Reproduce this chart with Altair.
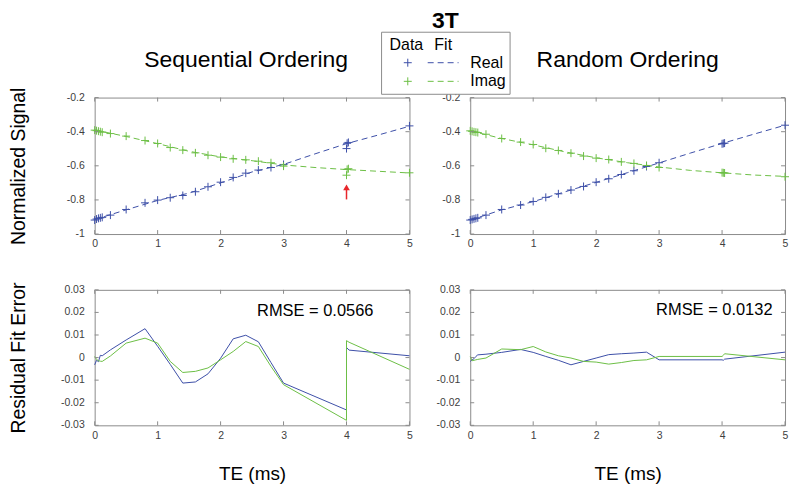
import altair as alt
import pandas as pd

# ---------------- data ----------------
TE_L = [0, 0.03, 0.06, 0.09, 0.12, 0.25, 0.5, 0.8, 1.0, 1.2, 1.4, 1.6, 1.8, 2.0, 2.2, 2.4, 2.6, 2.8, 3.0, 4.0, 4.01, 4.03, 5.0]
REAL_L = [-0.918, -0.912, -0.908, -0.905, -0.902, -0.889, -0.856, -0.817, -0.801, -0.787, -0.774, -0.752, -0.723, -0.696, -0.668, -0.643, -0.625, -0.610, -0.592, -0.499, -0.468, -0.463, -0.366]
IMAG_L = [-0.391, -0.394, -0.397, -0.400, -0.403, -0.411, -0.426, -0.452, -0.469, -0.493, -0.508, -0.524, -0.538, -0.549, -0.559, -0.565, -0.573, -0.582, -0.602, -0.655, -0.621, -0.617, -0.641]

TE_R = [0, 0.03, 0.06, 0.09, 0.12, 0.25, 0.5, 0.8, 1.0, 1.2, 1.4, 1.6, 1.8, 2.0, 2.2, 2.4, 2.6, 2.8, 3.0, 4.0, 4.02, 4.04, 5.0]
REAL_R = [-0.918, -0.914, -0.911, -0.908, -0.905, -0.889, -0.856, -0.830, -0.809, -0.785, -0.764, -0.742, -0.721, -0.696, -0.676, -0.651, -0.629, -0.604, -0.582, -0.471, -0.469, -0.467, -0.362]
IMAG_R = [-0.395, -0.398, -0.401, -0.403, -0.405, -0.415, -0.440, -0.461, -0.475, -0.497, -0.510, -0.526, -0.543, -0.555, -0.563, -0.577, -0.586, -0.598, -0.610, -0.640, -0.641, -0.642, -0.664]

FIT_TE = [0, 0.5, 1.0, 1.5, 2.0, 2.5, 3.0, 3.5, 4.0, 4.5, 5.0]
FIT_REAL_L = [-0.915, -0.858, -0.803, -0.760, -0.700, -0.636, -0.592, -0.530, -0.470, -0.420, -0.368]
FIT_IMAG_L = [-0.390, -0.428, -0.470, -0.515, -0.548, -0.570, -0.595, -0.610, -0.622, -0.632, -0.642]
FIT_REAL_R = [-0.918, -0.858, -0.810, -0.753, -0.697, -0.640, -0.583, -0.525, -0.469, -0.415, -0.362]
FIT_IMAG_R = [-0.395, -0.440, -0.477, -0.518, -0.553, -0.582, -0.607, -0.627, -0.641, -0.654, -0.662]

RES_TE_L = [0, 0.03, 0.06, 0.09, 0.12, 0.25, 0.5, 0.8, 1.0, 1.2, 1.4, 1.6, 1.8, 2.0, 2.2, 2.4, 2.6, 2.8, 3.0, 4.0, 4.0, 4.04, 5.0]
RES_REAL_L = [-0.0032, -0.0012, -0.0018, 0.0010, 0.0008, 0.0034, 0.0078, 0.0128, 0.0050, -0.0030, -0.0113, -0.0108, -0.0072, -0.0003, 0.0083, 0.0099, 0.0070, -0.0022, -0.0113, -0.0232, 0.0045, 0.0033, 0.0008]
RES_IMAG_L = [0.0005, -0.0008, -0.0014, -0.0016, -0.0017, 0.0007, 0.0064, 0.0086, 0.0064, -0.0017, -0.0066, -0.0061, -0.0046, -0.0010, 0.0027, 0.0071, 0.0049, -0.0039, -0.0120, -0.0278, 0.0075, 0.0068, -0.0052]

RES_TE_R = [0, 0.03, 0.06, 0.09, 0.12, 0.25, 0.5, 0.8, 1.0, 1.2, 1.4, 1.6, 1.8, 2.0, 2.2, 2.4, 2.6, 2.8, 3.0, 4.0, 4.02, 4.04, 5.0]
RES_REAL_R = [-0.0017, -0.0010, -0.0005, 0.0005, 0.0012, 0.0015, 0.0023, 0.0036, 0.0023, 0.0005, -0.0012, -0.0032, -0.0017, -0.0002, 0.0013, 0.0017, 0.0020, 0.0024, -0.0010, -0.0010, -0.0012, -0.0007, 0.0024]
RES_IMAG_R = [0.0005, -0.0014, -0.0012, -0.0010, -0.0008, -0.0002, 0.0038, 0.0035, 0.0049, 0.0025, 0.0008, -0.0002, -0.0017, -0.0020, -0.0029, -0.0022, -0.0013, -0.0010, 0.0005, 0.0005, 0.0010, 0.0017, -0.0010]

ARROW_TE = [4.0]
ARROW_FROM = [-0.797]
ARROW_TO = [-0.735]
ARROW_HEAD = [-0.726]

X_TICKS = [0, 1, 2, 3, 4, 5]
Y_TICKS_TOP = [-1, -0.8, -0.6, -0.4, -0.2]
Y_LABELS_TOP = ["-1", "-0.8", "-0.6", "-0.4", "-0.2"]
Y_TICKS_BOT = [-0.03, -0.02, -0.01, 0, 0.01, 0.02, 0.03]
Y_LABELS_BOT = ["-0.03", "-0.02", "-0.01", "0", "0.01", "0.02", "0.03"]
SERIES = ["Real", "Imag"]

# ---------------- style ----------------
BLUE = "#3d4fa8"
GREEN = "#6cbf45"
AX = "#8c8c8c"
LAB = "#404040"
FONT = "Liberation Sans"
PLUS = "M-1,0L1,0M0,-1L0,1"
W = 316
H_TOP = 137
H_BOT = 136

cscale = alt.Scale(domain=SERIES, range=[BLUE, GREEN])
xscale = alt.Scale(domain=[0, 5], nice=False, zero=False)
ONE = pd.DataFrame({"a": [0]})


def x_axis(title):
    kw = dict(values=X_TICKS, labelExpr="'' + datum.value", ticks=False, domain=False,
              grid=False, labelPadding=5, labelFontSize=10.5, labelColor=LAB, labelFont=FONT,
              labelOverlap=False, labelFlush=False)
    if title:
        kw.update(title=title, titleFontSize=19, titleFontWeight="normal", titleColor="black",
                  titleFont=FONT, titleY=48, titleBaseline="middle")
    else:
        kw.update(title=None)
    return alt.Axis(**kw)


def y_axis(values, title, h):
    kw = dict(values=values, labels=False, ticks=False, domain=False, grid=False)
    if title:
        kw.update(title=title, titleFontSize=19.5, titleFontWeight="normal", titleColor="black",
                  titleFont=FONT, titleX=-76.5, titleY=h / 2, titleBaseline="middle")
    else:
        kw.update(title=None)
    return alt.Axis(**kw)


def ylabel_layer(yscale, yvals, labels):
    d = pd.DataFrame({"value": yvals, "label": labels})
    return alt.Chart(d).mark_text(align="right", baseline="middle", fontSize=10.5, font=FONT,
                                  color=LAB).encode(
        y=alt.Y("value:Q", scale=yscale), x=alt.value(-10), text="label:N")


def text_layer(txt, x, y, size, align="left", baseline="middle", weight="normal"):
    return alt.Chart(ONE).mark_text(text=txt, fontSize=size, font=FONT, align=align, baseline=baseline,
                                    fontWeight=weight, color="black").encode(x=alt.value(x), y=alt.value(y))


def tick_layers(yscale, yvals, w, h):
    dx = pd.DataFrame({"TE": X_TICKS})
    dy = pd.DataFrame({"value": yvals})
    xe = alt.X("TE:Q", scale=xscale)
    ye = alt.Y("value:Q", scale=yscale)
    return [
        alt.Chart(dx).mark_rule(color=AX, strokeWidth=1).encode(x=xe, y=alt.value(h), y2=alt.value(h - 4)),
        alt.Chart(dx).mark_rule(color=AX, strokeWidth=1).encode(x=xe, y=alt.value(0), y2=alt.value(4)),
        alt.Chart(dy).mark_rule(color=AX, strokeWidth=1).encode(y=ye, x=alt.value(0), x2=alt.value(4)),
        alt.Chart(dy).mark_rule(color=AX, strokeWidth=1).encode(y=ye, x=alt.value(w - 4), x2=alt.value(w)),
    ]


def top_panel(te, real, imag, fr, fi, title, title_x, ytitle, extra):
    n = len(te)
    pts = pd.DataFrame({"TE": te + te, "value": real + imag, "series": ["Real"] * n + ["Imag"] * n})
    m = len(FIT_TE)
    fit = pd.DataFrame({"TE": FIT_TE + FIT_TE, "value": fr + fi, "series": ["Real"] * m + ["Imag"] * m})
    ys = alt.Scale(domain=[-1, -0.2], nice=False, zero=False)
    pts_l = alt.Chart(pts).mark_point(shape=PLUS, size=64, filled=False, strokeWidth=1, opacity=1).encode(
        x=alt.X("TE:Q", scale=xscale, axis=x_axis(None)),
        y=alt.Y("value:Q", scale=ys, axis=y_axis(Y_TICKS_TOP, ytitle, H_TOP)),
        color=alt.Color("series:N", scale=cscale, legend=None),
    )
    fit_l = alt.Chart(fit).mark_line(strokeDash=[6, 4], strokeWidth=1).encode(
        x=alt.X("TE:Q", scale=xscale),
        y=alt.Y("value:Q", scale=ys),
        color=alt.Color("series:N", scale=cscale, legend=None),
    )
    ttl = text_layer(title, title_x, -31, 23, align="center", baseline="alphabetic")
    layers = ([pts_l, fit_l] + tick_layers(ys, Y_TICKS_TOP, W, H_TOP)
              + [ylabel_layer(ys, Y_TICKS_TOP, Y_LABELS_TOP)] + extra(ys) + [ttl])
    return alt.layer(*layers).properties(width=W, height=H_TOP)


def bot_panel(te, rr, ri, rmse, rx, ry, ytitle):
    n = len(te)
    df = pd.DataFrame({"TE": te + te, "value": rr + ri, "series": ["Real"] * n + ["Imag"] * n,
                       "idx": list(range(n)) + list(range(n))})
    ys = alt.Scale(domain=[-0.03, 0.03], nice=False, zero=False)
    line = alt.Chart(df).mark_line(strokeWidth=1).encode(
        x=alt.X("TE:Q", scale=xscale, axis=x_axis("TE (ms)")),
        y=alt.Y("value:Q", scale=ys, axis=y_axis(Y_TICKS_BOT, ytitle, H_BOT)),
        color=alt.Color("series:N", scale=cscale, legend=None),
        order="idx:Q",
    )
    txt = text_layer(rmse, rx, ry, 16.5)
    layers = ([line] + tick_layers(ys, Y_TICKS_BOT, W, H_BOT)
              + [ylabel_layer(ys, Y_TICKS_BOT, Y_LABELS_BOT), txt])
    return alt.layer(*layers).properties(width=W, height=H_BOT)


def arrow_layers(ys):
    d = pd.DataFrame({"TE": ARROW_TE, "y0": ARROW_FROM, "y1": ARROW_TO, "yh": ARROW_HEAD})
    rule = alt.Chart(d).mark_rule(color="#e8262b", strokeWidth=1.5).encode(
        x=alt.X("TE:Q", scale=xscale),
        y=alt.Y("y0:Q", scale=ys), y2="y1:Q")
    head = alt.Chart(d).mark_point(shape="triangle-up", filled=True, color="#e8262b", size=45, opacity=1).encode(
        x=alt.X("TE:Q", scale=xscale),
        y=alt.Y("yh:Q", scale=ys))
    return [rule, head]


def legend_layers(ys):
    layers = []
    layers.append(alt.Chart(ONE).mark_rect(fill="white", stroke=AX, strokeWidth=1).encode(
        x=alt.value(-89), x2=alt.value(40), y=alt.value(-65.6), y2=alt.value(-3.3)))
    layers.append(text_layer("3T", -25, -70.3, 23, align="center", baseline="alphabetic", weight="bold"))
    layers.append(text_layer("Data", -81, -53, 16))
    layers.append(text_layer("Fit", -36, -53, 16))
    for lab, col, yy in [("Real", BLUE, -35), ("Imag", GREEN, -16.3)]:
        layers.append(alt.Chart(ONE).mark_point(shape=PLUS, size=64, filled=False, strokeWidth=1,
                                               color=col, opacity=1).encode(
            x=alt.value(-62.7), y=alt.value(yy)))
        layers.append(alt.Chart(ONE).mark_rule(strokeDash=[6, 4], strokeWidth=1, color=col).encode(
            x=alt.value(-42.7), x2=alt.value(-11.7), y=alt.value(yy)))
        layers.append(text_layer(lab, 0, yy, 16))
    return layers


tl = top_panel(TE_L, REAL_L, IMAG_L, FIT_REAL_L, FIT_IMAG_L, "Sequential Ordering", W / 2 - 6,
               "Normalized Signal", arrow_layers)
tr = top_panel(TE_R, REAL_R, IMAG_R, FIT_REAL_R, FIT_IMAG_R, "Random Ordering", W / 2, None, legend_layers)
bl = bot_panel(RES_TE_L, RES_REAL_L, RES_IMAG_L, "RMSE = 0.0566", 163, 21, "Residual Fit Error")
br = bot_panel(RES_TE_R, RES_REAL_R, RES_IMAG_R, "RMSE = 0.0132", 186.6, 20, None)

chart = alt.concat(tl, tr, bl, br, columns=2, spacing={"row": 56, "column": 61}, bounds="flush").properties(
    padding={"left": 0, "top": 0, "right": 0, "bottom": 0}
).configure(font=FONT).configure_axis(labelOverlap=False, labelFlush=False).configure_view(
    stroke=AX, strokeWidth=1)

chart.save("out.html", embed_options={"renderer": "svg", "actions": False})
